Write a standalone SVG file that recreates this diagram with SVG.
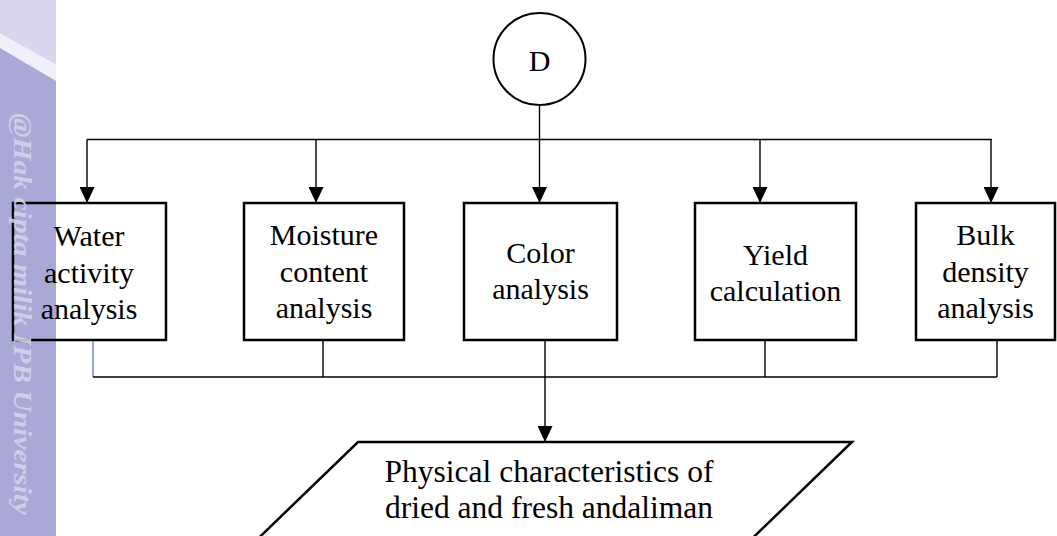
<svg xmlns="http://www.w3.org/2000/svg" width="1057" height="536" viewBox="0 0 1057 536">
<style>
.box{fill:#fff;stroke:#000;stroke-width:2.5}
.t{font-family:"Liberation Serif","Times New Roman",serif;font-size:30px;fill:#000;text-anchor:middle}
.c{fill:none;stroke:#000;stroke-width:1.4}
.wm{font-family:"Liberation Serif","Times New Roman",serif;font-size:25px;font-weight:bold;font-style:italic;fill:#d4d4ec;fill-opacity:0.9}
</style>
<defs>
<marker id="ah" markerUnits="userSpaceOnUse" markerWidth="16" markerHeight="15" refX="16" refY="7.5" orient="auto">
<path d="M0,0 L16,7.5 L0,15 z" fill="#000"/>
</marker>
</defs>
<rect width="1057" height="536" fill="#fff"/>
<g id="watermark-band">
<rect x="0" y="0" width="56" height="536" fill="#a9a8d6"/>
<polygon points="0,0 56,0 56,64 0,33" fill="#d9d7ef"/>
<polygon points="0,33 56,64 56,81 0,48" fill="#f1f0f9"/>
</g>
<g id="connectors">
<line class="c" x1="539.5" y1="105" x2="539.5" y2="203" marker-end="url(#ah)"/>
<line class="c" x1="87" y1="139.5" x2="992" y2="139.5"/>
<line class="c" x1="87" y1="139.5" x2="87" y2="203" marker-end="url(#ah)"/>
<line class="c" x1="316" y1="139.5" x2="316" y2="203" marker-end="url(#ah)"/>
<line class="c" x1="760" y1="139.5" x2="760" y2="203" marker-end="url(#ah)"/>
<line class="c" x1="991" y1="139.5" x2="991" y2="203" marker-end="url(#ah)"/>
<line x1="93" y1="341" x2="93" y2="377" stroke="#4a6fb5" stroke-width="1.2"/>
<line class="c" x1="323" y1="340" x2="323" y2="377"/>
<line class="c" x1="545" y1="340" x2="545" y2="377"/>
<line class="c" x1="765" y1="340" x2="765" y2="377"/>
<line class="c" x1="997" y1="340" x2="997" y2="377"/>
<line class="c" x1="93" y1="377" x2="997" y2="377"/>
<line class="c" x1="545" y1="377" x2="545" y2="442" marker-end="url(#ah)"/>
</g>
<g id="node-D">
<circle cx="539.5" cy="59" r="46" fill="#fff" stroke="#000" stroke-width="2"/>
<text class="t" x="539.5" y="71">D</text>
</g>
<g id="node-water">
<rect x="56" y="203" width="110" height="137" fill="#fff"/>
<rect x="13" y="203" width="153" height="137" fill="none" stroke="#000" stroke-width="2.5"/>
<text class="t" x="89" y="246">Water</text>
<text class="t" x="89" y="282.5">activity</text>
<text class="t" x="89" y="319">analysis</text>
</g>
<g id="node-moisture">
<rect class="box" x="244" y="203" width="160" height="137"/>
<text class="t" x="324" y="245">Moisture</text>
<text class="t" x="324" y="281.5">content</text>
<text class="t" x="324" y="318">analysis</text>
</g>
<g id="node-color">
<rect class="box" x="464" y="203" width="153" height="137"/>
<text class="t" x="540.5" y="263">Color</text>
<text class="t" x="540.5" y="299">analysis</text>
</g>
<g id="node-yield">
<rect class="box" x="695" y="203" width="161" height="137"/>
<text class="t" x="775.5" y="265">Yield</text>
<text class="t" x="775.5" y="301">calculation</text>
</g>
<g id="node-bulk">
<rect class="box" x="916" y="203" width="139" height="137"/>
<text class="t" x="985.5" y="245">Bulk</text>
<text class="t" x="985.5" y="282">density</text>
<text class="t" x="985.5" y="318">analysis</text>
</g>
<g id="node-output">
<polygon points="358,442 852,442 732,558 238,558" fill="#fff" stroke="#000" stroke-width="2.5"/>
<text class="t" x="549" y="482" style="font-size:31.5px">Physical characteristics of</text>
<text class="t" x="549" y="518" style="font-size:31.5px">dried and fresh andaliman</text>
</g>
<g id="watermark-text">
<text class="wm" transform="translate(14,113) rotate(90)" textLength="402" lengthAdjust="spacingAndGlyphs">@Hak cipta milik IPB University</text>
</g>
</svg>
